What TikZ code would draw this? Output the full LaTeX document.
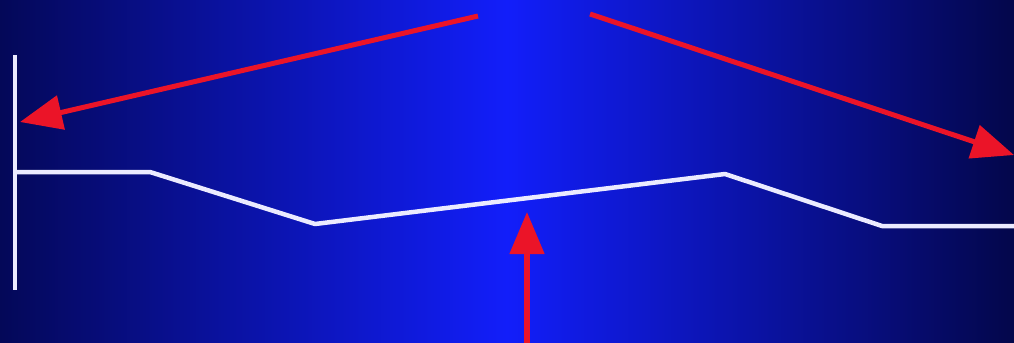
\documentclass[tikz,border=0pt]{standalone}
\usetikzlibrary{arrows.meta}
\definecolor{edgeblue}{RGB}{4,8,88}
\definecolor{midblue}{RGB}{18,30,250}
\definecolor{arrred}{RGB}{235,20,40}
\tikzset{
  beam/.style={draw=white!92!blue, line width=0.045cm, line join=round},
  redarrow/.style={draw=arrred, line width=0.05cm, -{Triangle[length=0.42cm,width=0.34cm]}, arrred}
}
\begin{document}
\begin{tikzpicture}[x=0.01cm,y=-0.01cm]
\shade[left color=edgeblue, right color=edgeblue!85!black, middle color=midblue] (0,0) rectangle (1014,342);
\useasboundingbox (0,0) rectangle (1014,342);
% wall
\coordinate (wt) at (15,55);
\coordinate (wb) at (15,290);
\draw[beam] (wt) -- (wb);
% beam
\coordinate (b0) at (15,172);
\coordinate (b1) at (150,172);
\coordinate (b2) at (315,224);
\coordinate (b3) at (725,174);
\coordinate (b4) at (882,226);
\coordinate (b5) at (1014,226);
\draw[beam] (b0) -- (b1) -- (b2) -- (b3) -- (b4) -- (b5);
% arrows
\coordinate (s1) at (478,16);
\coordinate (t1) at (20,122);
\coordinate (s2) at (590,14);
\coordinate (t2) at (1014,155);
\coordinate (s3) at (527,345);
\coordinate (t3) at (527,212);
\draw[redarrow] (s1) -- (t1);
\draw[redarrow] (s2) -- (t2);
\draw[redarrow] (s3) -- (t3);
\end{tikzpicture}
\end{document}
